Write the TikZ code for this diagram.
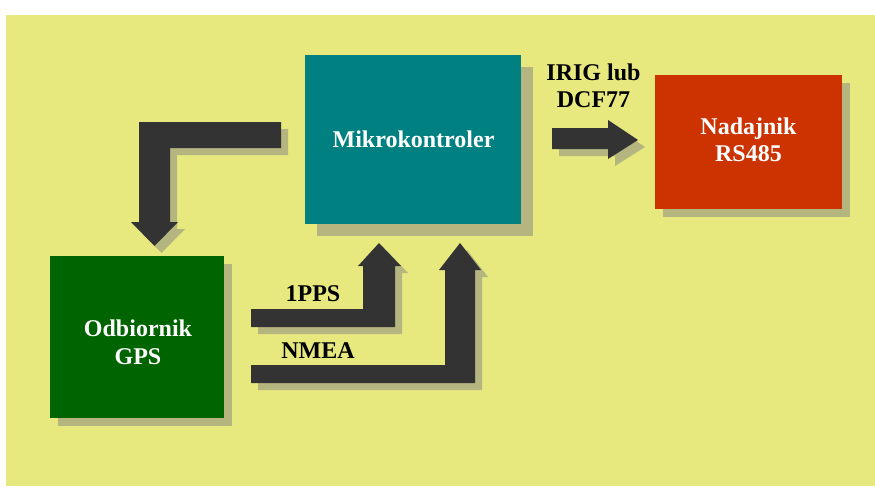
\documentclass[tikz,border=0pt]{standalone}
\usepackage{fontspec}
\setmainfont{Liberation Serif}
\definecolor{bgyel}{RGB}{231,233,126}
\definecolor{shad}{RGB}{181,181,128}
\definecolor{tealbox}{RGB}{0,128,128}
\definecolor{redbox}{RGB}{204,51,0}
\definecolor{greenbox}{RGB}{0,100,0}
\definecolor{arrowc}{RGB}{51,51,51}
\newcommand{\arrowL}{(281,122) -- (139,122) -- (139,222) -- (131,222) -- (154.5,246) -- (178,222) -- (170,222) -- (170,148) -- (281,148) -- cycle}
\newcommand{\arrowPPS}{(251,309) -- (363,309) -- (363,266) -- (358,266) -- (379,243) -- (401,266) -- (395,266) -- (395,327) -- (251,327) -- cycle}
\newcommand{\arrowNMEA}{(251,365) -- (445,365) -- (445,270) -- (439,270) -- (460,243) -- (481,270) -- (475,270) -- (475,383) -- (251,383) -- cycle}
\newcommand{\arrowIRIG}{(552,128) -- (608,128) -- (608,120) -- (638,140) -- (608,159) -- (608,149) -- (552,149) -- cycle}
\begin{document}
\begin{tikzpicture}[x=1pt,y=-1pt,
  boxst/.style={inner sep=0pt},
  btxt/.style={inner sep=0pt, anchor=base, text=white,
    font=\bfseries\fontsize{24}{27}\selectfont},
  lbl/.style={inner sep=0pt, anchor=base, text=black,
    font=\bfseries\fontsize{24}{26}\selectfont},
  blockarrow/.style={fill=arrowc},
  blockshadow/.style={fill=shad}]
\useasboundingbox (0,0) rectangle (875,487);
\fill[bgyel] (6,15) rectangle (875,486);
% shadows of boxes
\fill[shad] (317,67) rectangle (533,236);
\fill[shad] (663,83) rectangle (850,217);
\fill[shad] (58,264) rectangle (232,426);
% boxes
\node[boxst, fill=tealbox, minimum width=216pt, minimum height=169pt] (mk) at (413,139.5) {};
\node[boxst, fill=redbox, minimum width=187pt, minimum height=134pt] (rs) at (748.5,142) {};
\node[boxst, fill=greenbox, minimum width=174pt, minimum height=162pt] (gps) at (137,337) {};
\node[btxt] (mkt) at (413.5,147) {Mikrokontroler};
\node[btxt] (rst1) at (748.5,134) {Nadajnik};
\node[btxt] (rst2) at (748.5,161) {RS485};
\node[btxt] (gpst1) at (138,336) {Odbiornik};
\node[btxt] (gpst2) at (138,364) {GPS};
% block arrows (shadow first)
\begin{scope}[shift={(7,7)}]
  \fill[blockshadow] \arrowL;
  \fill[blockshadow] \arrowPPS;
  \fill[blockshadow] \arrowNMEA;
  \fill[blockshadow] \arrowIRIG;
\end{scope}
\fill[blockarrow] \arrowL;
\fill[blockarrow] \arrowPPS;
\fill[blockarrow] \arrowNMEA;
\fill[blockarrow] \arrowIRIG;
% labels
\node[lbl] (pps) at (313,301) {1PPS};
\node[lbl] (nmea) at (318,358) {NMEA};
\node[lbl] (irig1) at (593.5,81) {IRIG lub};
\node[lbl] (irig2) at (593.5,107) {DCF77};
\end{tikzpicture}
\end{document}
